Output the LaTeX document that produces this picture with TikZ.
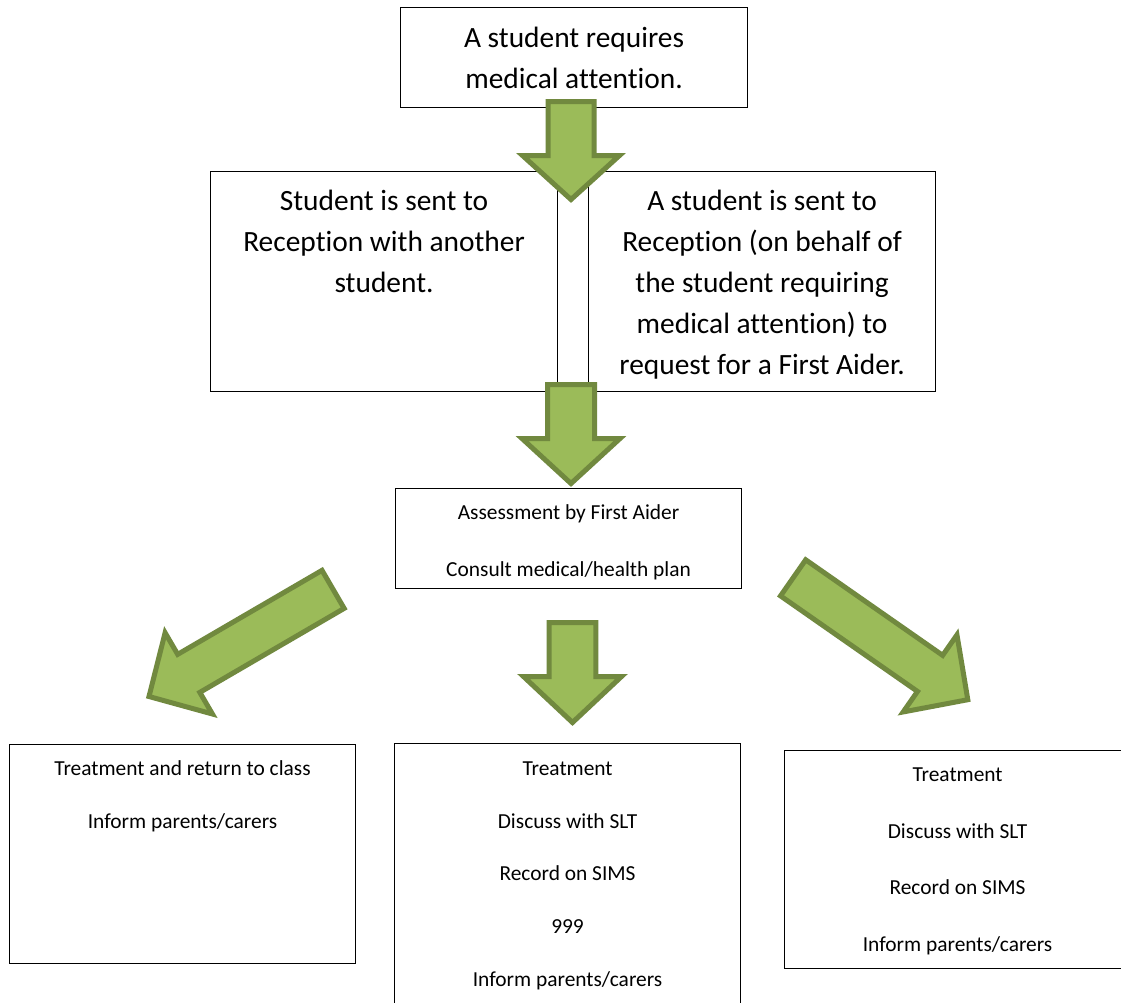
\documentclass[tikz,border=0pt]{standalone}
\usepackage{fontspec}
\setmainfont{Carlito}[Ligatures={NoCommon}]
\definecolor{arrowfill}{HTML}{9BBB59}
\definecolor{arrowline}{HTML}{71893F}
\tikzset{
  box/.style={draw=black, line width=1.1pt, inner sep=0pt, anchor=north west, fill=white},
  blockarrow/.style={fill=arrowfill, draw=arrowline, line width=5pt, line join=miter},
}
\newcommand{\blockarr}[6]{%
  \begin{scope}[shift={#1},rotate=#2]
    \draw[blockarrow] (0,0) -- (-#4,#6) -- (-#4,#5) -- (-#3,#5) -- (-#3,-#5) -- (-#4,-#5) -- (-#4,-#6) -- cycle;
  \end{scope}}
\newcommand{\boxtxt}[6]{\parbox[t][#2pt][t]{#1pt}{\centering\fontsize{#3}{#4}\selectfont\rule{0pt}{#5pt}#6}}
\begin{document}
\begin{tikzpicture}[x=1pt,y=-1pt]
\useasboundingbox (0,0) rectangle (1121,1002);
\clip (0,0) rectangle (1121,1002);
\fill[white] (0,0) rectangle (1121,1002);

\node[box] (start) at (400,7) {\boxtxt{347}{100}{29.4}{40.5}{40}{A student requires\\medical attention.}};
\node[box] (withstudent) at (210,171) {\boxtxt{347}{220}{29.4}{41}{39}{Student is sent to\\Reception with another\\student.}};
\node[box, minimum width=31pt, minimum height=220pt] (gap) at (557,171) {};
\node[box] (onbehalf) at (588,171) {\boxtxt{347}{220}{29.4}{41}{39}{A student is sent to\\Reception (on behalf of\\the student requiring\\medical attention) to\\request for a First Aider.}};
\node[box] (assess) at (395,488) {\boxtxt{346}{100}{21.4}{57}{31}{Assessment by First Aider\\Consult medical/health plan}};
\node[box] (returnclass) at (9,744) {\boxtxt{346}{219}{21.4}{53}{31}{Treatment and return to class\\Inform parents/carers}};
\node[box] (emergency) at (394,743) {\boxtxt{346}{290}{21.4}{52.7}{32}{Treatment\\Discuss with SLT\\Record on SIMS\\999\\Inform parents/carers}};
\node[box] (record) at (784,750) {\boxtxt{346}{218}{21.4}{56.7}{31}{Treatment\\Discuss with SLT\\Record on SIMS\\Inform parents/carers}};

\coordinate (tipA) at (571,199.5);
\coordinate (tipB) at (571,483.5);
\coordinate (tipC) at (572.5,722.5);
\coordinate (tipL) at (149,696.5);
\coordinate (tipR) at (967.8,699.7);

\blockarr{(tipA)}{-90}{98}{44}{23}{48.5}
\blockarr{(tipB)}{-90}{99}{45}{23.5}{49}
\blockarr{(tipC)}{-90}{100}{46}{23.3}{49}
\blockarr{(tipL)}{210.2}{213}{46}{22}{47}
\blockarr{(tipR)}{-34.9}{213}{46}{22}{47}
\end{tikzpicture}
\end{document}
